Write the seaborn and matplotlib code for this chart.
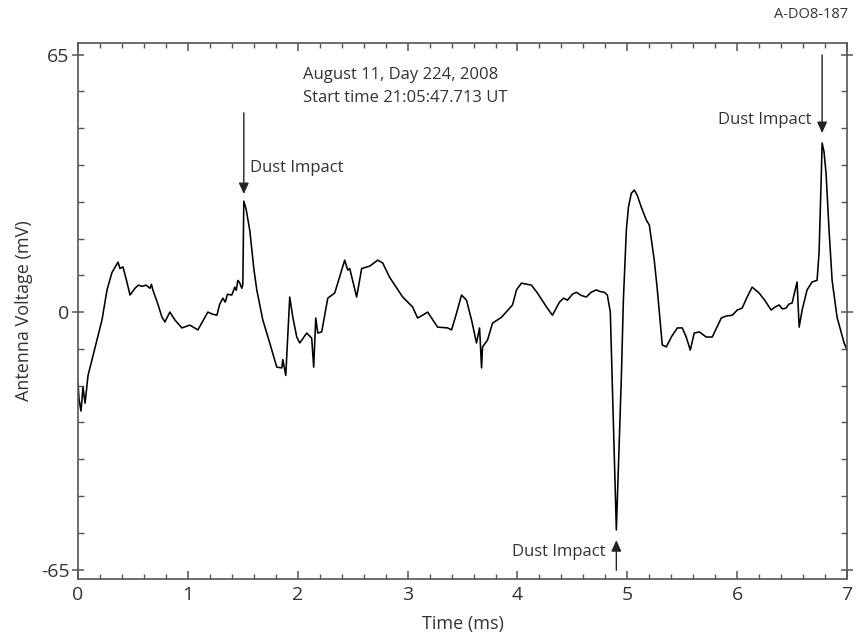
import matplotlib
matplotlib.use("Agg")
import matplotlib.pyplot as plt
import seaborn as sns
import numpy as np
import pandas as pd
from matplotlib.ticker import MultipleLocator

# Antenna voltage waveform (time in ms, voltage in mV)
time_ms = [
    0.000, 0.009, 0.027, 0.045, 0.064, 0.091, 0.127, 0.173, 0.218, 0.264,
    0.309, 0.364, 0.382, 0.409, 0.445, 0.473, 0.518, 0.550, 0.582, 0.620,
    0.655, 0.668, 0.682, 0.727, 0.764, 0.791, 0.836, 0.882, 0.945, 1.018,
    1.091, 1.182, 1.220, 1.264, 1.290, 1.318, 1.340, 1.360, 1.400, 1.427,
    1.440, 1.455, 1.470, 1.491, 1.500, 1.509, 1.530, 1.564, 1.600, 1.627,
    1.682, 1.745, 1.809, 1.855, 1.864, 1.891, 1.909, 1.927, 1.955, 1.991,
    2.018, 2.082, 2.127, 2.145, 2.164, 2.182, 2.218, 2.273, 2.336, 2.364,
    2.427, 2.455, 2.473, 2.536, 2.582, 2.655, 2.727, 2.773, 2.836, 2.955,
    3.045, 3.091, 3.136, 3.182, 3.273, 3.364, 3.400, 3.445, 3.491, 3.536,
    3.582, 3.627, 3.655, 3.673, 3.682, 3.727, 3.773, 3.855, 3.955, 3.991,
    4.036, 4.127, 4.182, 4.264, 4.318, 4.382, 4.420, 4.455, 4.500, 4.536,
    4.580, 4.627, 4.670, 4.718, 4.750, 4.791, 4.818, 4.845, 4.900, 4.945,
    4.964, 4.991, 5.010, 5.036, 5.064, 5.090, 5.127, 5.173, 5.200, 5.245,
    5.273, 5.318, 5.355, 5.400, 5.455, 5.500, 5.536, 5.573, 5.609, 5.655,
    5.718, 5.773, 5.855, 5.900, 5.955, 6.000, 6.045, 6.091, 6.136, 6.200,
    6.250, 6.309, 6.340, 6.382, 6.410, 6.445, 6.470, 6.500, 6.545, 6.564,
    6.591, 6.636, 6.682, 6.727, 6.745, 6.764, 6.773, 6.790, 6.809, 6.836,
    6.864, 6.909, 6.973, 7.000,
]
voltage_mv = [
    -18.0, -22.0, -25.0, -19.0, -23.0, -16.0, -12.0, -7.0, -2.0, 5.6,
    10.0, 12.6, 11.0, 11.4, 7.6, 4.3, 6.0, 6.8, 6.5, 6.8,
    6.0, 7.0, 5.5, 2.0, -1.3, -2.5, 0.0, -2.0, -4.0, -3.3,
    -4.5, 0.0, -0.5, -0.8, 2.0, 3.5, 2.5, 4.5, 4.3, 6.3,
    5.5, 8.0, 7.5, 6.0, 7.0, 28.0, 26.0, 20.5, 11.0, 5.6,
    -2.0, -7.8, -13.9, -14.1, -12.0, -16.0, -6.0, 3.8, -1.3, -6.3,
    -7.8, -5.3, -6.6, -13.9, -1.5, -5.3, -5.0, 3.5, 4.8, 7.3,
    13.1, 10.6, 11.0, 3.8, 11.0, 11.6, 13.1, 12.4, 8.8, 3.8,
    1.3, -1.5, -0.8, 0.0, -3.8, -4.0, -4.5, -0.3, 4.3, 3.0,
    -2.0, -7.8, -4.0, -14.1, -8.8, -7.1, -2.8, -1.3, 1.8, 5.6,
    7.3, 6.8, 4.8, 1.3, -0.8, 2.5, 3.5, 3.0, 4.5, 5.0,
    4.2, 3.8, 5.0, 5.6, 5.2, 5.0, 4.3, 0.0, -55.0, -17.0,
    3.0, 20.7, 26.5, 30.0, 30.8, 29.5, 26.5, 23.2, 22.0, 13.1,
    5.6, -8.3, -8.8, -6.3, -4.0, -4.0, -6.3, -9.6, -5.3, -5.0,
    -6.3, -6.3, -1.5, -1.0, -0.8, 0.5, 1.0, 3.8, 6.3, 4.8,
    3.0, 0.5, 1.2, 1.8, 0.8, 1.0, 2.0, 2.3, 7.6, -3.8,
    0.5, 5.6, 7.6, 8.0, 14.9, 33.0, 42.7, 40.5, 35.0, 20.7,
    8.0, -1.3, -7.8, -9.6,
]

# Dust impact annotations: arrow x (ms), arrow start / tip (mV)
impact_x = [1.509, 6.773, 4.900]
impact_tail = [50.3, 64.9, -65.2]
impact_tip = [29.8, 45.2, -57.6]
impact_label = "Dust Impact"

x_ticks = [0, 1, 2, 3, 4, 5, 6, 7]
y_ticks = [-65, 0, 65]

header_lines = ["August 11, Day 224, 2008", "Start time 21:05:47.713 UT"]
figure_id = "A-DO8-187"

sns.set_theme(style="ticks")
plt.rcParams["font.family"] = ["Open Sans", "DejaVu Sans"]
plt.rcParams["axes.unicode_minus"] = False

text_gray = "#333333"
spine_gray = "#555555"

fig = plt.figure(figsize=(8.67, 6.41), dpi=100)
ax = fig.add_axes([0.090, 0.0967, 0.887, 0.836])

df = pd.DataFrame({"t": time_ms, "v": voltage_mv})
sns.lineplot(data=df, x="t", y="v", ax=ax, color="black", linewidth=1.15,
             sort=False, estimator=None)

ax.set_xlim(0, 7)
ax.set_ylim(-67.4, 67.9)
ax.set_xticks(x_ticks)
ax.set_yticks(y_ticks)
ax.xaxis.set_minor_locator(MultipleLocator(0.2))
ax.yaxis.set_minor_locator(MultipleLocator(65 / 7))

for s in ax.spines.values():
    s.set_color(spine_gray)
    s.set_linewidth(1.2)

ax.tick_params(axis="x", which="major", direction="in", length=6, width=1.1,
               color=spine_gray, top=True, bottom=True, labelsize=14,
               labelcolor=text_gray, pad=5)
ax.tick_params(axis="x", which="minor", direction="in", length=3.5, width=1.0,
               color=spine_gray, top=True, bottom=True)
ax.tick_params(axis="y", which="major", direction="inout", length=8, width=1.1,
               color=spine_gray, left=True, right=True, labelsize=14,
               labelcolor=text_gray, pad=2)
ax.tick_params(axis="y", which="minor", direction="in", length=4, width=1.0,
               color=spine_gray, left=True, right=True)

ax.set_xlabel("Time (ms)", fontsize=13, color=text_gray, labelpad=8)
ax.set_ylabel("Antenna Voltage (mV)", fontsize=13, color=text_gray, labelpad=6)

# Header text block
ax.text(2.045, 59.8, header_lines[0], fontsize=12, color=text_gray,
        ha="left", va="center")
ax.text(2.045, 54.0, header_lines[1], fontsize=12, color=text_gray,
        ha="left", va="center")

# Arrows pointing at the impacts
arrow_style = dict(arrowstyle="-|>,head_length=0.55,head_width=0.25",
                   color="#222222", lw=1.0, shrinkA=0, shrinkB=0)
for xa, y0, y1 in zip(impact_x, impact_tail, impact_tip):
    ax.annotate("", xy=(xa, y1), xytext=(xa, y0), arrowprops=arrow_style)

ax.text(impact_x[0] + 0.06, 36.4, impact_label, fontsize=12,
        color=text_gray, ha="left", va="center")
ax.text(impact_x[1] - 0.10, 48.5, impact_label, fontsize=12,
        color=text_gray, ha="right", va="center")
ax.text(impact_x[2] - 0.10, -60.6, impact_label, fontsize=12,
        color=text_gray, ha="right", va="center")

fig.text(848 / 867, 1 - 15 / 641, figure_id, fontsize=10.5, color=text_gray,
         ha="right", va="center")

fig.savefig("out.png", dpi=100, facecolor="white")
